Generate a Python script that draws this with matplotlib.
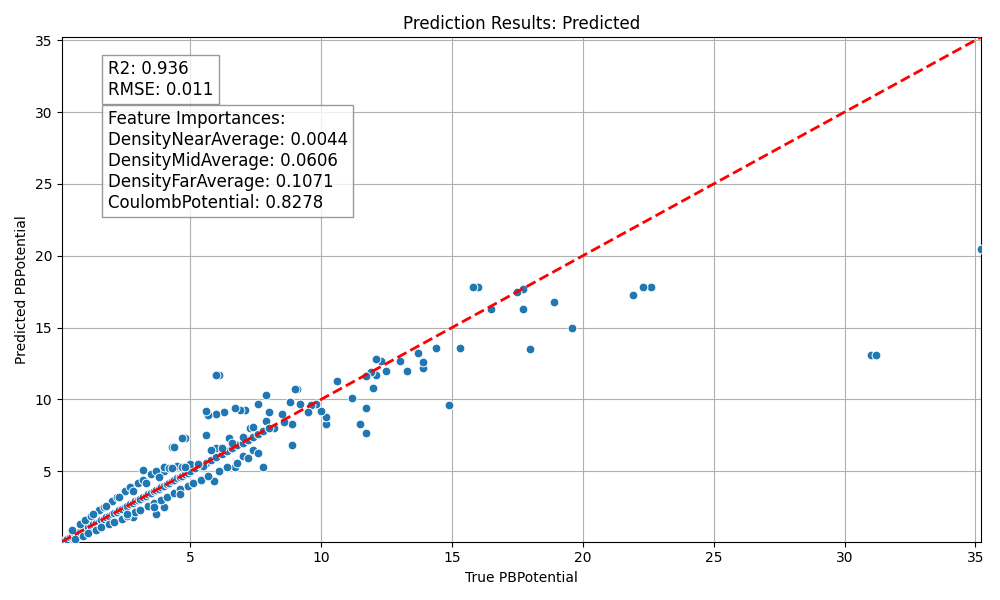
import matplotlib
matplotlib.use("Agg")
import matplotlib.pyplot as plt

true_vals = [35.2,31.0,31.2,22.6,22.3,21.9,19.6,18.9,18.0,17.7,17.7,17.5,16.5,16.0,15.8,15.3,14.9,14.4,13.9,13.9,13.7,13.3,13.0,12.5,12.3,12.1,12.1,12.0,11.9,11.7,11.7,11.7,11.5,11.2,10.6,10.2,10.2,10.0,9.8,9.6,9.5,9.1,9.0,9.2,8.9,8.8,8.9,8.6,8.5,8.2,8.0,7.9,7.9,7.8,7.6,7.4,7.3,7.1,6.9,6.7,6.3,6.1,6.0,6.0,5.7,5.6,5.6,6.0,6.5,5.9,6.7,7.0,5.2,4.8,4.7,4.3,4.4,4.0,4.0,3.7,3.2,2.8,
  0.1,0.2,0.3,0.4,0.5,0.6,0.7,0.8,0.9,1.0,1.1,1.2,1.3,1.4,1.5,1.6,1.7,1.8,1.9,2.0,2.1,2.2,2.3,2.4,2.5,2.6,2.7,2.8,2.9,3.0,3.1,3.2,3.3,3.4,3.5,3.6,3.7,3.8,3.9,4.0,4.1,4.2,4.3,4.4,4.5,4.6,4.7,4.8,4.9,5.0,5.2,5.4,5.6,5.8,6.0,6.2,6.4,6.6,6.8,7.0,7.2,7.4,7.6,7.8,8.0,
  0.5,0.8,1.0,1.2,1.5,1.7,2.0,2.2,2.5,2.7,3.0,3.2,3.5,3.7,4.0,4.2,4.5,4.7,5.0,5.3,5.5,5.8,6.2,6.6,7.0,7.4,
  0.6,0.9,1.1,1.4,1.6,1.9,2.1,2.4,2.6,2.9,3.1,3.4,3.6,3.9,4.1,4.4,4.6,4.9,5.1,5.4,5.7,6.1,6.4,6.8,7.2,7.6,
  1.3,1.8,2.3,2.8,3.3,3.8,4.3,4.8,5.3,2.6,3.6,4.6]
pred_vals = [20.5,13.1,13.1,17.8,17.8,17.3,15.0,16.8,13.5,17.7,16.3,17.5,16.3,17.8,17.8,13.6,9.6,13.6,12.2,12.6,13.2,12.0,12.7,12.0,12.7,12.8,11.7,10.8,11.9,11.6,7.7,9.4,8.3,10.1,11.3,8.3,8.8,9.2,9.7,9.6,9.1,10.7,10.7,9.7,6.8,9.8,8.3,8.4,9.0,8.0,9.1,10.3,8.5,5.3,9.7,6.5,8.0,9.3,9.3,9.4,9.1,11.7,11.7,9.0,8.9,9.2,7.5,6.6,7.3,4.3,5.3,6.1,5.3,7.3,7.3,6.7,6.7,5.0,2.5,2.0,5.1,1.8,
  0.1,0.2,0.3,0.4,0.5,0.6,0.7,0.8,0.9,1.0,1.1,1.2,1.3,1.4,1.5,1.6,1.7,1.8,1.9,2.0,2.1,2.2,2.3,2.4,2.5,2.6,2.7,2.8,2.9,3.0,3.1,3.2,3.3,3.4,3.5,3.6,3.7,3.8,3.9,4.0,4.1,4.2,4.3,4.4,4.5,4.6,4.7,4.8,4.9,5.0,5.2,5.4,5.6,5.8,6.0,6.2,6.4,6.6,6.8,7.0,7.2,7.4,7.6,7.8,8.0,
  0.9,1.3,1.6,1.9,2.3,2.5,2.9,3.2,3.6,3.9,4.2,4.4,4.8,5.0,5.3,5.2,5.4,5.3,5.5,5.5,5.4,6.5,6.6,7.0,7.4,8.1,
  0.3,0.5,0.7,0.9,1.1,1.3,1.5,1.7,1.9,2.2,2.3,2.6,2.8,3.0,3.2,3.5,3.8,4.0,4.2,4.4,4.7,5.0,5.3,5.6,5.9,6.3,
  2.0,2.6,3.2,3.6,4.2,4.6,5.2,5.3,5.5,2.0,2.5,3.4]

r2_text = "R2: 0.936\nRMSE: 0.011"
fi_text = ("Feature Importances:\nDensityNearAverage: 0.0044\nDensityMidAverage: 0.0606\n"
           "DensityFarAverage: 0.1071\nCoulombPotential: 0.8278")

fig, ax = plt.subplots(figsize=(10, 6), dpi=100)
ax.scatter(true_vals, pred_vals, s=40, color="#1f77b4", edgecolor="white", linewidth=0.7, zorder=3)
lo = min(min(true_vals), min(pred_vals)); hi = max(max(true_vals), max(pred_vals))
ax.plot([lo, hi], [lo, hi], "r--", lw=2, zorder=4)
ax.set_xlim(lo, hi); ax.set_ylim(lo, hi)
ax.grid(True)
ax.set_axisbelow(True)
box = dict(facecolor="white", edgecolor="gray", alpha=0.8)
ax.text(0.05, 0.955, r2_text, transform=ax.transAxes, fontsize=12, va="top", bbox=box)
ax.text(0.05, 0.855, fi_text, transform=ax.transAxes, fontsize=12, va="top", bbox=box)
ax.set_xlabel("True PBPotential")
ax.set_ylabel("Predicted PBPotential")
ax.set_title("Prediction Results: Predicted")
fig.tight_layout()
fig.savefig("out.png")
